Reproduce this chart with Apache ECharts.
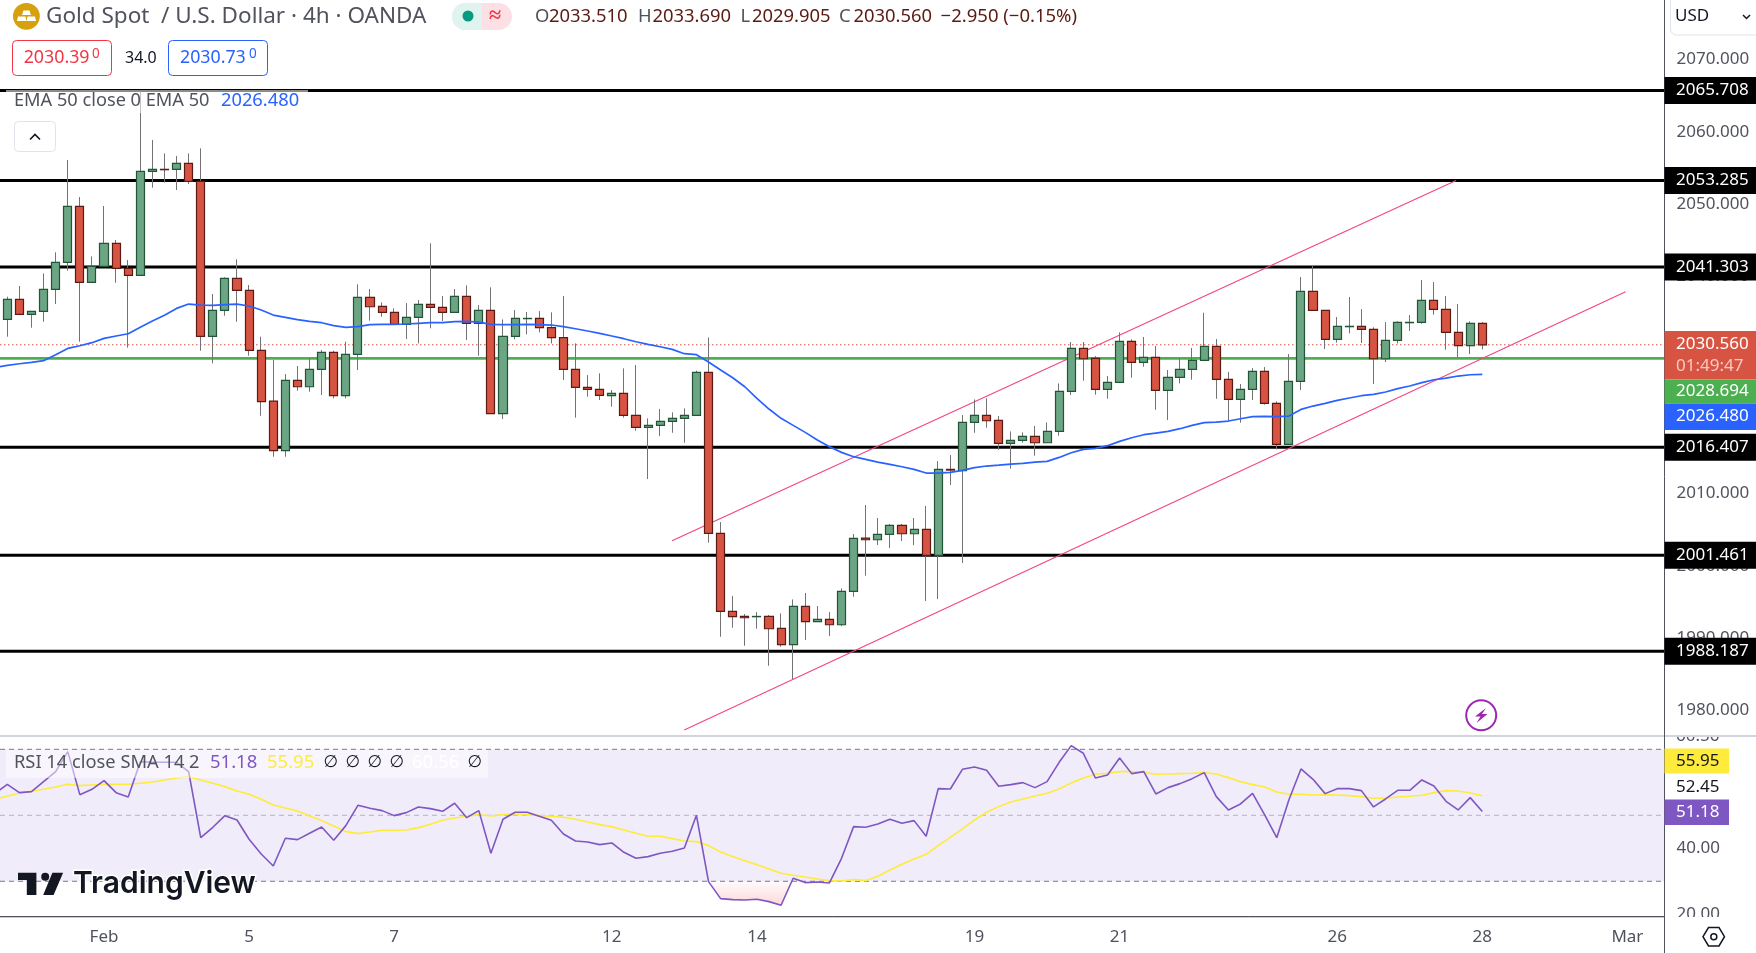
<!DOCTYPE html>
<html><head><meta charset="utf-8"><style>html,body{margin:0;padding:0;background:#fff}#c{width:1756px;height:953px}</style>
<script src="https://cdn.jsdelivr.net/npm/echarts@6/dist/echarts.min.js"></script></head><body><div id="c"></div>
<script>
const opens=[2034.07,2036.84,2034.76,2035.18,2038.22,2041.95,2049.69,2039.19,2041.40,2044.58,2041.12,2040.16,2054.53,2054.81,2054.81,2055.64,2053.15,2031.72,2035.32,2039.74,2038.08,2029.79,2022.78,2015.92,2025.64,2024.76,2027.16,2029.51,2023.52,2029.23,2037.11,2035.87,2035.04,2033.38,2034.35,2036.15,2035.73,2035.04,2037.25,2033.52,2035.32,2021.03,2031.72,2034.17,2034.21,2032.92,2031.54,2027.16,2024.67,2024.40,2023.52,2023.84,2020.80,2019.14,2019.42,2019.97,2020.39,2020.80,2026.75,2004.49,1993.70,1993.01,1992.97,1993.01,1991.35,1989.10,1994.40,1992.28,1992.60,1991.86,1996.47,2003.84,2003.61,2004.35,2005.59,2004.44,2005.04,2001.45,2013.34,2013.15,2019.83,2020.80,2020.11,2016.93,2017.34,2017.90,2017.02,2018.59,2024.12,2030.06,2028.68,2024.40,2025.36,2031.03,2028.13,2028.82,2024.26,2026.05,2027.16,2028.40,2030.34,2025.78,2023.01,2024.40,2026.88,2022.46,2016.79,2025.50,2037.94,2035.32,2031.31,2033.06,2033.11,2032.69,2028.63,2031.17,2033.61,2033.66,2036.70,2035.46,2032.28,2030.43,2033.51];
const highs=[2037.21,2038.68,2035.18,2040.43,2043.34,2056.10,2050.98,2042.78,2049.74,2045.04,2042.28,2065.55,2058.87,2057.02,2056.65,2057.02,2057.71,2037.57,2039.88,2042.37,2038.82,2031.68,2028.45,2026.51,2027.62,2028.68,2029.83,2029.74,2030.98,2038.91,2038.27,2036.42,2035.59,2036.33,2036.75,2044.58,2037.30,2038.27,2038.77,2036.05,2038.50,2034.07,2035.36,2035.09,2035.22,2035.04,2037.30,2030.75,2026.38,2026.61,2024.30,2027.30,2027.76,2020.39,2021.68,2021.22,2021.77,2026.98,2031.58,2006.05,1995.82,1993.34,1993.61,1993.20,1993.43,1995.36,1996.24,1994.44,1993.61,1996.88,2004.40,2008.41,2006.61,2005.78,2005.78,2006.61,2008.27,2014.49,2015.32,2020.85,2023.01,2023.15,2020.71,2018.59,2018.45,2019.33,2019.83,2025.22,2030.94,2030.94,2029.00,2026.24,2032.28,2031.31,2031.63,2030.39,2027.07,2028.68,2030.11,2034.99,2031.35,2026.79,2025.13,2027.34,2027.48,2022.74,2029.28,2039.93,2041.45,2035.32,2034.40,2037.16,2035.50,2032.97,2033.70,2033.80,2034.67,2039.51,2039.23,2037.30,2036.19,2033.80,2033.69];
const lows=[2031.68,2034.67,2032.92,2033.75,2036.19,2040.80,2030.98,2039.19,2041.40,2039.14,2030.16,2040.16,2052.28,2052.97,2051.95,2052.78,2029.74,2027.99,2034.58,2033.75,2029.05,2020.75,2015.09,2015.09,2024.21,2024.07,2023.61,2023.15,2023.15,2027.07,2033.89,2034.44,2033.29,2031.35,2030.75,2032.83,2033.84,2035.04,2031.22,2029.05,2021.03,2020.29,2031.31,2032.00,2032.28,2030.75,2025.69,2020.48,2023.38,2022.92,2022.00,2020.48,2018.68,2012.00,2017.94,2018.40,2017.02,2020.80,2003.20,1990.20,1991.45,1988.96,1991.31,1986.19,1988.82,1984.35,1989.74,1992.28,1990.29,1991.68,1995.73,1998.64,2002.87,2002.46,2003.43,2002.87,1995.13,1995.41,2011.17,2000.39,2018.40,2019.10,2016.05,2013.43,2017.02,2015.22,2017.02,2017.99,2023.61,2025.59,2023.66,2023.10,2025.36,2026.01,2027.53,2021.58,2020.16,2025.22,2025.73,2028.40,2023.10,2019.93,2019.79,2022.92,2022.28,2016.10,2016.79,2024.30,2035.32,2029.97,2030.85,2032.14,2030.80,2025.13,2028.17,2030.75,2032.46,2033.47,2034.72,2029.88,2028.87,2029.28,2029.905];
const closes=[2036.84,2034.76,2035.18,2038.22,2041.95,2049.69,2039.19,2041.40,2044.58,2041.12,2040.16,2054.53,2054.81,2054.76,2055.64,2053.15,2031.72,2035.32,2039.74,2038.08,2029.79,2022.69,2015.92,2025.64,2024.76,2027.16,2029.51,2023.52,2029.23,2037.11,2035.82,2035.04,2033.38,2034.35,2036.15,2035.73,2035.04,2037.25,2033.52,2035.32,2021.03,2031.72,2034.21,2034.21,2032.92,2031.54,2027.16,2024.67,2024.40,2023.57,2023.84,2020.80,2019.14,2019.42,2019.97,2020.39,2020.80,2026.75,2004.49,1993.70,1992.97,1992.83,1993.01,1991.31,1989.10,1994.40,1992.28,1992.60,1991.86,1996.47,2003.80,2003.61,2004.35,2005.59,2004.44,2005.04,2001.45,2013.34,2013.24,2019.83,2020.80,2020.06,2016.93,2017.34,2017.90,2017.02,2018.59,2024.12,2030.06,2028.63,2024.40,2025.36,2031.03,2028.13,2028.82,2024.26,2026.05,2027.16,2028.40,2030.34,2025.78,2023.01,2024.40,2026.88,2022.46,2016.79,2025.50,2037.94,2035.32,2031.31,2033.11,2033.11,2032.69,2028.63,2031.17,2033.66,2033.66,2036.70,2035.46,2032.28,2030.43,2033.52,2030.56];
// index -1 (just off the left edge) to 122
const ema50=[2027.44,2027.71,2027.94,2028.13,2028.36,2029.19,2030.06,2030.43,2030.85,2031.45,2031.77,2032.09,2032.97,2033.84,2034.63,2035.59,2036.19,2036.05,2036.01,2036.10,2036.19,2035.92,2035.36,2034.67,2034.35,2034.03,2033.80,2033.61,2033.20,2032.97,2033.06,2033.34,2033.38,2033.38,2033.43,2033.52,2033.61,2033.61,2033.75,2033.80,2033.70,2033.38,2033.34,2033.34,2033.38,2033.34,2033.29,2033.06,2032.78,2032.46,2032.14,2031.77,2031.40,2030.98,2030.62,2030.29,2029.93,2029.33,2029.19,2028.17,2027.07,2026.01,2024.76,2023.15,2021.68,2020.39,2019.42,2018.45,2017.39,2016.47,2015.69,2015.09,2014.72,2014.35,2014.03,2013.70,2013.34,2012.83,2012.83,2012.92,2013.20,2013.57,2013.80,2013.93,2014.07,2014.17,2014.35,2014.44,2014.99,2015.64,2016.10,2016.24,2016.61,2017.21,2017.71,2018.13,2018.36,2018.59,2018.96,2019.42,2019.79,2019.88,2020.02,2020.34,2020.62,2020.66,2020.62,2020.71,2021.63,2022.09,2022.46,2022.87,2023.20,2023.52,2023.70,2024.03,2024.49,2024.86,2025.32,2025.73,2025.96,2026.24,2026.42,2026.48];
const rsi=[56.67,59.40,56.87,57.17,60.20,63.23,69.29,56.26,57.88,60.51,56.87,55.56,66.26,66.06,66.06,66.06,63.23,43.23,46.37,49.90,48.59,42.73,38.28,34.65,43.03,42.63,44.55,46.47,42.43,46.87,53.03,52.12,51.42,49.90,50.81,52.53,52.02,51.21,53.64,49.29,51.42,38.49,48.79,50.91,50.91,49.70,48.49,44.35,42.23,41.92,41.11,41.62,38.79,36.97,37.48,38.49,39.09,40.10,50.00,29.90,24.75,24.45,24.34,24.55,23.84,22.73,30.91,29.60,29.80,29.50,36.97,46.57,46.37,47.38,48.79,47.58,48.39,43.64,58.08,57.98,63.94,64.65,63.64,58.79,59.29,59.90,58.39,60.20,66.06,71.11,68.79,61.31,62.22,67.38,62.63,63.23,56.47,58.39,59.60,61.11,62.93,55.66,51.62,53.44,56.67,50.10,43.23,54.65,64.04,60.91,56.57,58.08,58.08,57.48,52.53,54.95,57.58,57.58,60.71,58.89,54.24,51.62,55.35,51.18];
const rsiSma=[54.95,55.76,56.77,57.27,57.88,58.59,59.40,58.99,59.19,59.40,59.40,59.40,59.70,60.10,60.71,61.31,61.72,60.71,59.70,58.69,57.38,56.37,54.85,53.13,52.22,51.31,49.80,48.39,46.77,45.05,44.45,44.95,45.46,45.46,45.56,46.26,47.27,48.49,49.19,49.70,50.20,49.80,50.20,50.30,50.20,49.90,49.70,49.40,48.79,47.98,47.17,46.57,45.56,44.55,43.64,43.64,42.93,42.23,42.02,40.81,38.89,37.48,36.26,35.05,33.74,32.43,31.82,31.31,30.71,30.20,30.10,30.51,30.20,31.52,33.44,35.15,36.77,38.18,40.81,43.33,45.86,48.59,50.91,52.63,54.04,54.95,55.86,56.67,57.98,59.80,61.31,62.43,62.73,63.23,63.23,63.03,62.43,62.53,62.63,62.73,62.93,62.53,61.42,60.20,59.29,58.59,57.07,56.37,56.37,56.16,56.26,56.16,55.96,55.66,55.15,55.15,55.56,55.76,56.06,56.87,57.48,57.38,56.77,55.95];
const levels=[2065.708,2053.285,2041.303,2016.407,2001.461,1988.187];
const pivot=2028.694, lastClose=2030.56, lastEma=2026.48;
const channelUpper=[[54.98,2003.47],[119.83,2053.285]];
const channelLower=[[55.99,1977.31],[133.85,2037.90]];
const priceTicks=[1980,1990,2000,2010,2020,2030,2040,2050,2060,2070];
const rsiTicks=[20,40];
const rsiBands=[70,50,30];
const timeIdx=[8,20,32,50,62,80,92,110,122,134];
const timeLabels=['Feb','5','7','12','14','19','21','26','28','Mar'];
const overSold=[[58,30],[59,24.75],[60,24.45],[61,24.34],[62,24.55],[63,23.84],[64,22.73],[64.89,30]];

const F='"Noto Sans"';const XMIN=-0.604,XMAX=137.07;
const lab={color:'#50535e',fontFamily:F,fontSize:17};
const withIdx=a=>a.map((v,i)=>[i-1,v]);
const hline=(v,color,w,type,z,xi,yi)=>({type:'line',xAxisIndex:xi,yAxisIndex:yi,z,silent:true,showSymbol:false,symbol:'none',data:[[XMIN,v],[XMAX,v]],lineStyle:{color,width:w,type}});
const series=[
  hline(lastClose,'#d75442',1,[1.5,2.5],1,0,0),
  ...levels.map(v=>hline(v,'#000',3,'solid',1,0,0)),
  hline(pivot,'#4caf50',2.8,'solid',1,0,0),
  ...[channelUpper,channelLower].map(d=>({type:'line',z:2,silent:true,showSymbol:false,symbol:'none',data:d,lineStyle:{color:'#f2457f',width:1.1}})),
  {type:'candlestick',z:3,silent:true,barWidth:1,data:opens.map((o,i)=>[i,o,closes[i],lows[i],highs[i]]),itemStyle:{color:'#737375',color0:'#737375',borderColor:'#737375',borderColor0:'#737375',borderWidth:1}},
  {type:'candlestick',z:3,silent:true,barWidth:8.6,data:opens.map((o,i)=>[i,o,closes[i],Math.min(o,closes[i]),Math.max(o,closes[i])]),itemStyle:{color:'#6ba583',color0:'#d75442',borderColor:'#225437',borderColor0:'#5b1a13',borderWidth:1.2}},
  {type:'line',z:4,silent:true,showSymbol:false,symbol:'none',data:withIdx(ema50),lineStyle:{color:'#2962ff',width:1.7}},
  {type:'line',xAxisIndex:1,yAxisIndex:1,z:0,silent:true,showSymbol:false,symbol:'none',data:[[XMIN,70],[XMAX,70]],lineStyle:{width:0},areaStyle:{origin:30,color:'#f0ecf9',opacity:1}},
  ...rsiBands.map((v,i)=>hline(v,i==1?'#b2b5be':'#787b86',1,[5,4],1,1,1)),
  {type:'line',xAxisIndex:1,yAxisIndex:1,z:1,silent:true,showSymbol:false,symbol:'none',data:overSold,lineStyle:{width:0},areaStyle:{origin:30,opacity:1,color:new echarts.graphic.LinearGradient(0,0,0,1,[{offset:0,color:'rgba(242,54,69,0.02)'},{offset:1,color:'rgba(242,54,69,0.20)'}])}},
  {type:'line',xAxisIndex:1,yAxisIndex:1,z:3,silent:true,showSymbol:false,symbol:'none',data:withIdx(rsiSma),lineStyle:{color:'#ffeb3b',width:1.6}},
  {type:'line',xAxisIndex:1,yAxisIndex:1,z:4,silent:true,showSymbol:false,symbol:'none',data:withIdx(rsi),lineStyle:{color:'#7e57c2',width:1.6}}
];
const chart=echarts.init(document.getElementById('c'),null,{renderer:'canvas'});
const base={animation:false,backgroundColor:'#fff',
 grid:[{left:0,top:0,width:1664.5,height:735},{left:0,top:737,width:1664.5,height:179.7}],
 xAxis:[{type:'value',gridIndex:0,min:XMIN,max:XMAX,show:false},
  {type:'value',gridIndex:1,min:XMIN,max:XMAX,splitLine:{show:false},axisTick:{show:false},axisLine:{show:true,onZero:false,lineStyle:{color:'#50535e'}},
   axisLabel:{...lab,margin:12,customValues:timeIdx,formatter:v=>timeLabels[timeIdx.indexOf(v)]||''}}],
 yAxis:[{type:'value',gridIndex:0,position:'right',min:1976.62,max:2078.219,splitLine:{show:false},axisTick:{show:false},axisLine:{show:false},
   axisLabel:{...lab,margin:12,customValues:priceTicks,formatter:v=>v.toFixed(3)}},
  {type:'value',gridIndex:1,position:'right',min:19.27,max:73.73,splitLine:{show:false},axisTick:{show:false},axisLine:{show:false},
   axisLabel:{...lab,margin:12,customValues:rsiTicks,formatter:v=>v.toFixed(2)}}],
 series};
chart.setOption(base);

const Z=50;
const rect=(x,y,w,h,fill,o={})=>({type:'rect',silent:true,z:o.z||Z,shape:{x,y,width:w,height:h,r:o.r||0},style:{fill,stroke:o.stroke||null,lineWidth:o.lw||1}});
const txt=(x,y,text,fill,o={})=>({type:'text',silent:true,z:o.z||Z+1,style:{x,y,text,fill,font:(o.w||'normal')+' '+(o.s||17)+'px '+(o.f||F),textAlign:o.a||'left',textVerticalAlign:'middle',stroke:o.stroke,lineWidth:o.lw}});
const line=(x1,y1,x2,y2,c,w,z)=>({type:'line',silent:true,z:z||Z,shape:{x1,y1,x2,y2},style:{stroke:c,lineWidth:w}});
const py=v=>chart.convertToPixel({yAxisIndex:0},v);
const AX=1664.5,TX=1676;
const g=[];
g.push(txt(TX,736,'60.56','#50535e',{z:40}));
g.push(rect(AX,722,92,13.5,'#fff',{z:41}));
g.push(rect(AX,917,92,36,'#fff',{z:41}));
g.push(rect(0,735,1756,2,'#d1d4dc',{z:45}));
g.push(line(AX,0,AX,953,'#50535e',1,45));
g.push(line(0,916.8,AX,916.8,'#50535e',1,45));
levels.forEach(v=>{const y=py(v);g.push(rect(AX,y-13.5,92,27,'#000'));g.push(txt(TX,y,v.toFixed(3),'#fff'));});
g.push(rect(AX,331,92,48.5,'#d75442'));g.push(txt(TX,344.5,lastClose.toFixed(3),'#fff'));g.push(txt(TX,366,'01:49:47','#f7c9c3'));
g.push(rect(AX,379.5,92,24,'#4caf50'));g.push(txt(TX,391.5,pivot.toFixed(3),'#fff'));
g.push(rect(AX,403.5,92,26.5,'#2962ff'));g.push(txt(TX,416.5,lastEma.toFixed(3),'#fff'));
g.push(rect(AX,748.5,64.5,25,'#ffeb3b'));g.push(txt(TX,761,'55.95','#131722'));
g.push(txt(TX,787,'52.45','#131722'));
g.push(rect(AX,799.5,64.5,25.5,'#7e57c2'));g.push(txt(TX,812,'51.18','#fff'));
g.push({type:'circle',silent:true,z:Z,shape:{cx:26.4,cy:16.3,r:13.4},style:{fill:'#d6a00e'}});
g.push({type:'polygon',silent:true,z:Z+1,shape:{points:[[23.5,10.5],[29.5,10.5],[31,15],[22,15]]},style:{fill:'#fff'}});
g.push({type:'polygon',silent:true,z:Z+1,shape:{points:[[18,16.5],[25.5,16.5],[26.5,21],[17,21]]},style:{fill:'#fff'}});
g.push({type:'polygon',silent:true,z:Z+1,shape:{points:[[27.5,16.5],[35,16.5],[36,21],[26.5,21]]},style:{fill:'#fff'}});
g.push(txt(46,16.5,'Gold Spot  / U.S. Dollar · 4h · OANDA','#50535e',{s:22.5}));
g.push(rect(452,3,60,27,'#fde0e6',{r:13.5}));
g.push({type:'rect',silent:true,z:Z,shape:{x:452,y:3,width:30,height:27,r:[13.5,0,0,13.5]},style:{fill:'#dff3ef'}});
g.push({type:'circle',silent:true,z:Z+1,shape:{cx:468,cy:16,r:5.5},style:{fill:'#089981'}});
g.push(txt(495,16,'≈','#f23645',{s:22,a:'center',w:'bold'}));
const ohlc=[['O','2033.510',535,14],['H','2033.690',638,14.4],['L','2029.905',740.5,11.5],['C','2030.560',839,14.4]];
ohlc.forEach(r=>{g.push(txt(r[2],16.5,r[0],'#50535e',{s:18.4}));g.push(txt(r[2]+r[3],16.5,r[1],'#5b1a13',{s:18.4}));});
g.push(txt(940.6,16.5,'−2.950 (−0.15%)','#5b1a13',{s:18.5}));
g.push(rect(12.5,40.5,99,35,'#fff',{r:4,stroke:'#f23645'}));
g.push(txt(23.7,58,'2030.39','#f23645',{s:17.8}));
g.push(txt(92,54.5,'0','#f23645',{s:13.5}));
g.push(txt(125,58,'34.0','#131722',{s:16}));
g.push(rect(168.5,40.5,99,35,'#fff',{r:4,stroke:'#2962ff'}));
g.push(txt(180,58,'2030.73','#2962ff',{s:17.8}));
g.push(txt(249,54.5,'0','#2962ff',{s:13.5}));
g.push(rect(6,90,302,23,'rgba(255,255,255,0.55)',{z:48}));
g.push(txt(14,100.5,'EMA 50 close 0 EMA 50','#50535e',{s:18.2}));
g.push(txt(221,100.5,'2026.480','#2962ff',{s:18.3}));
g.push(rect(14.5,121.5,41,30,'#fff',{r:4,stroke:'#e0e3eb'}));
g.push({type:'polyline',silent:true,z:Z+1,shape:{points:[[30,139.5],[35,134.5],[40,139.5]]},style:{stroke:'#131722',lineWidth:1.6,fill:null}});
g.push(rect(1670.5,-6,92,41,'#fff',{r:6,stroke:'#e0e3eb'}));
g.push(txt(1675,16.5,'USD','#131722',{s:17}));
g.push({type:'polyline',silent:true,z:Z+1,shape:{points:[[1743,15],[1746.5,18.5],[1750,15]]},style:{stroke:'#131722',lineWidth:1.5,fill:null}});
g.push(rect(6,750,482,28,'rgba(255,255,255,0.5)',{z:48}));
g.push(txt(14,763,'RSI 14 close SMA 14 2','#50535e',{s:18.3}));
g.push(txt(210,763,'51.18','#7e57c2',{s:18.5}));
g.push(txt(267,763,'55.95','#ffeb3b',{s:18.5}));
[331,353,375,397,475].forEach(x=>g.push(txt(x,763,'∅','#131722',{s:17,a:'center',f:'"DejaVu Sans"'})));
g.push(txt(412,763,'60.56','#fff',{s:18.5}));
g.push(txt(73,884,'TradingView','#131722',{s:30,w:'600',f:'Inter',stroke:'#fff',lw:3}));
g.push({type:'polygon',silent:true,z:Z+1,shape:{points:[[18,872.7],[36.4,872.7],[36.4,895],[26.8,895],[26.8,880],[18,880]]},style:{fill:'#131722'}});
g.push({type:'circle',silent:true,z:Z+1,shape:{cx:45.2,cy:876.8,r:4},style:{fill:'#131722'}});
g.push({type:'polygon',silent:true,z:Z+1,shape:{points:[[52.4,872.7],[63.1,872.7],[53.6,895],[43.2,895]]},style:{fill:'#131722'}});
g.push({type:'circle',silent:true,z:Z,shape:{cx:1481.2,cy:715.3,r:15},style:{fill:'#fff',stroke:'#9c27b0',lineWidth:2}});
g.push({type:'polygon',silent:true,z:Z+1,shape:{points:[[1486,708],[1475,716.5],[1480.5,716.5],[1476.5,723],[1487.5,714],[1482,714]]},style:{fill:'#9c27b0'}});
g.push({type:'polygon',silent:true,z:Z+1,shape:{points:[[1703,936.7],[1708.5,927.5],[1719,927.5],[1724.5,936.7],[1719,946],[1708.5,946]]},style:{fill:null,stroke:'#131722',lineWidth:1.5}});
g.push({type:'circle',silent:true,z:Z+1,shape:{cx:1713.8,cy:936.7,r:3},style:{fill:null,stroke:'#131722',lineWidth:1.5}});
chart.setOption({graphic:{elements:g}});
</script></body></html>
